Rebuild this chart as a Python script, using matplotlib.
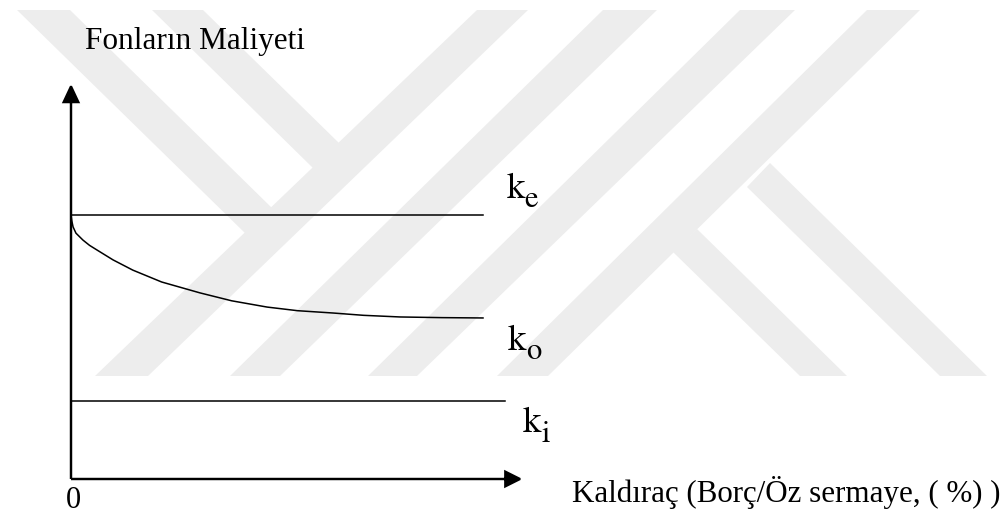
import matplotlib
matplotlib.use("Agg")
import matplotlib.pyplot as plt
from matplotlib.patches import Polygon
from matplotlib.transforms import Affine2D

plt.rcParams['font.family'] = ['Liberation Serif', 'DejaVu Serif']

# cost of funds vs leverage (schematic units)
leverage = [0, 100]
ke = [8.0, 8.0]
ki_leverage = [0, 105.3]
ki = [2.36, 2.36]
ko_leverage = [0, 0.2, 0.5, 1.2, 2.9, 4.5, 6.3, 10.2, 15.0, 22.0, 31.3, 39.0, 47.6, 55.0, 63.6, 71.0, 79.9, 90.0, 100]
ko = [8.0, 7.82, 7.64, 7.45, 7.24, 7.08, 6.94, 6.64, 6.33, 5.97, 5.64, 5.40, 5.21, 5.10, 5.03, 4.96, 4.91, 4.89, 4.88]
curve_names = ['e', 'o', 'i']

W, H = 1005, 522
SX, SY = 4.12, 33.0
fig = plt.figure(figsize=(W / 100, H / 100), dpi=100)
ax = fig.add_axes([0, 0, 1, 1])
ax.set_xlim(-71 / SX, (W - 71) / SX)
ax.set_ylim(-(H - 479) / SY, 479 / SY)
ax.axis('off')

# background stripes in pixel coordinates
px = Affine2D().scale(1 / W, -1 / H).translate(0, 1) + fig.transFigure
stripes = [
    [(477, 10), (528, 10), (148, 376), (95, 376)],
    [(603, 10), (657, 10), (280, 376), (230, 376)],
    [(740, 10), (795, 10), (417, 376), (368, 376)],
    [(867, 10), (920, 10), (548, 376), (497, 376)],
    [(17, 10), (70, 10), (273, 209), (247, 235)],
    [(152, 10), (203, 10), (340, 144), (314, 169)],
    [(673, 252), (697, 229), (847, 376), (800, 376)],
    [(747, 187), (770, 163), (987, 376), (940, 376)],
]
for pts in stripes:
    ax.add_patch(Polygon(pts, closed=True, transform=px, facecolor='#ededed',
                         edgecolor='none', zorder=0, clip_on=False))

ax.plot(leverage, ke, color='black', lw=1.1, zorder=3)
ax.plot(ko_leverage, ko, color='black', lw=1.1, zorder=3)
ax.plot(ki_leverage, ki, color='black', lw=1.1, zorder=3)

# axes with arrow heads
ax.arrow(0, 0, 0, 11.9, width=0, head_width=3.6, head_length=0.48,
         length_includes_head=True, color='black', lw=1.6, zorder=4)
ax.arrow(0, 0, 109, 0, width=0, head_width=0.45, head_length=3.6,
         length_includes_head=True, color='black', lw=1.6, zorder=4)

ax.text(3.4, 13.03, 'Fonların Maliyeti', fontsize=22.5, ha='left', va='baseline')
ax.text(0.6, -0.88, '0', fontsize=22, ha='center', va='baseline')
ax.text(121.6, -0.70, 'Kaldıraç (Borç/Öz sermaye, ( %) )', fontsize=22.3, ha='left', va='baseline')

# k labels: letter plus a dropped subscript
label_pos = [(105.8, 8.52), (106.1, 3.91), (109.7, 1.42)]
sub_dx = [17 / SX, 17.5 / SX, 18.5 / SX]
for name, (x, y), dx in zip(curve_names, label_pos, sub_dx):
    ax.text(x, y, 'k', fontsize=26.5, family='STIXGeneral', ha='left', va='baseline')
    ax.text(x + dx, y - 9.5 / SY, name, fontsize=22, family='STIXGeneral',
            ha='left', va='baseline')

fig.savefig('out.png', dpi=100)
